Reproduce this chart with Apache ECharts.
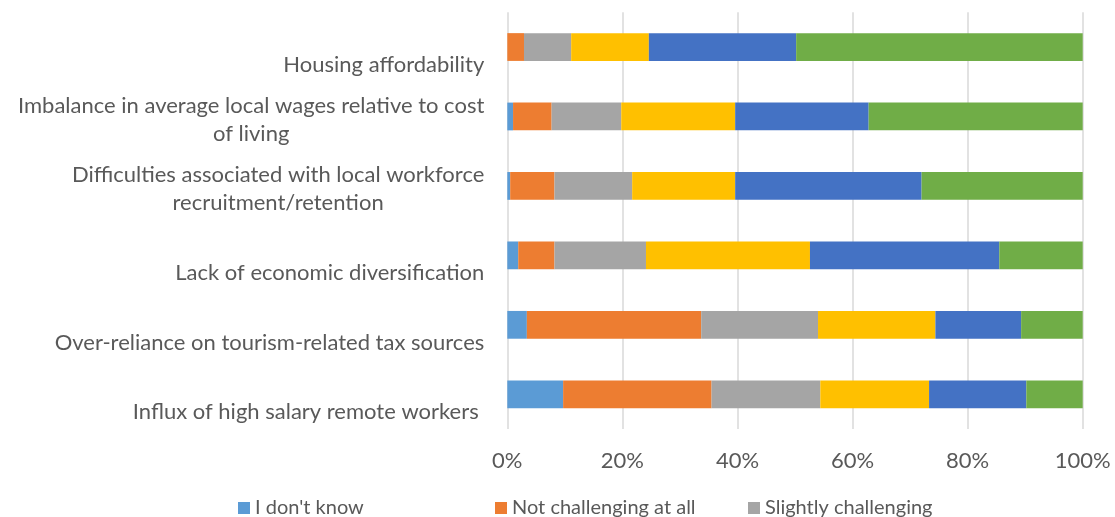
<!DOCTYPE html>
<html>
<head>
<meta charset="utf-8">
<script src="https://cdn.jsdelivr.net/npm/echarts@6/dist/echarts.min.js"></script>
<style>html,body{margin:0;padding:0;background:#fff;}#main{width:1115px;height:517px;}</style>
</head>
<body>
<div id="main"></div>
<script>
const categories = [
  "Housing affordability",
  "Imbalance in average local wages relative to cost\nof living",
  "Difficulties associated with local workforce\nrecruitment/retention",
  "Lack of economic diversification",
  "Over-reliance on tourism-related tax sources",
  "Influx of high salary remote workers "
];
const seriesNames = ["I don't know", "Not challenging at all", "Slightly challenging", "Moderately challenging", "Very challenging", "Extremely challenging"];
const dontKnow   = [0.0, 1.0, 0.5, 1.9, 3.4, 9.7];
const notAtAll   = [2.9, 6.7, 7.7, 6.3, 30.3, 25.8];
const slightly   = [8.2, 12.1, 13.5, 15.9, 20.3, 18.9];
const moderately = [13.5, 19.8, 17.9, 28.5, 20.4, 18.9];
const very       = [25.6, 23.2, 32.4, 32.9, 14.9, 16.9];
const extremely  = [49.8, 37.2, 28.0, 14.5, 10.7, 9.8];
const xTicks = [0, 20, 40, 60, 80, 100];

const values = [dontKnow, notAtAll, slightly, moderately, very, extremely];
const colors = ["#5B9BD5", "#ED7D31", "#A5A5A5", "#FFC000", "#4472C4", "#70AD47"];
const FONT = "Lato";
const TXT = "#595959";

// legend laid out in fixed columns (3 per row); second row falls below the visible area
const legendCols = [233, 490, 743];
const legends = seriesNames.map((name, i) => ({
  left: legendCols[i % 3], top: 493 + Math.floor(i / 3) * 30,
  itemWidth: 12, itemHeight: 12, icon: 'rect', data: [name],
  textStyle: {color: TXT, fontFamily: FONT, fontSize: 20}
}));

const chart = echarts.init(document.getElementById('main'), null, {renderer: 'canvas'});
chart.setOption({
  animation: false,
  backgroundColor: '#fff',
  textStyle: {fontFamily: FONT},
  grid: {left: 507.3, right: 32.3, top: 12.3, bottom: 88, containLabel: false},
  xAxis: {
    type: 'value', min: xTicks[0], max: xTicks[xTicks.length - 1], interval: 20,
    axisLine: {show: false}, axisTick: {show: false},
    splitLine: {show: true, lineStyle: {color: '#D9D9D9', width: 1.5}},
    axisLabel: {formatter: '{value}%', color: TXT, fontSize: 22, fontFamily: FONT, margin: 21}
  },
  yAxis: {
    type: 'category', data: categories, inverse: true,
    axisLine: {show: false}, axisTick: {show: false}, splitLine: {show: false},
    axisLabel: {
      interval: 0, margin: 23, color: TXT, fontFamily: FONT, fontSize: 22,
      formatter: function (v) {
        const lines = v.split('\n');
        if (lines.length === 1) return '{s|' + v + '}';
        return lines.map(l => '{c|' + l + '}').join('\n');
      },
      rich: {
        s: {color: TXT, fontFamily: FONT, fontSize: 22, lineHeight: 28, padding: [36, 0, 0, 0]},
        c: {color: TXT, fontFamily: FONT, fontSize: 22, lineHeight: 28, padding: [6, 0, 0, 0], align: 'center'}
      }
    }
  },
  legend: legends,
  series: seriesNames.map((name, i) => ({
    name: name, type: 'bar', stack: 'total', barWidth: '40%',
    data: values[i], itemStyle: {color: colors[i]}
  }))
});
</script>
</body>
</html>
